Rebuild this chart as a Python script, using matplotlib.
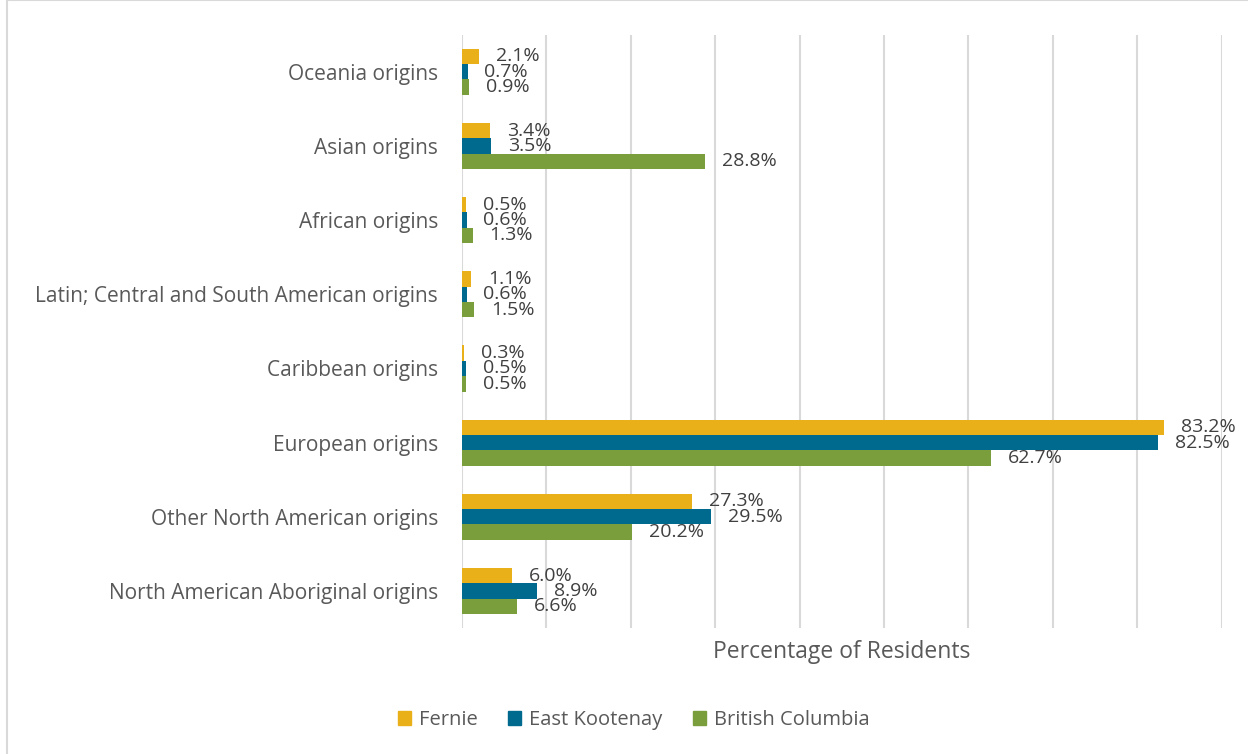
import matplotlib.pyplot as plt
import matplotlib.patches as mpatches
import numpy as np

plt.rcParams['font.family'] = ['Open Sans', 'DejaVu Sans']

# категории снизу вверх
categories = ['North American Aboriginal origins', 'Other North American origins',
              'European origins', 'Caribbean origins',
              'Latin; Central and South American origins', 'African origins',
              'Asian origins', 'Oceania origins']
fernie = [6.0, 27.3, 83.2, 0.3, 1.1, 0.5, 3.4, 2.1]
east_kootenay = [8.9, 29.5, 82.5, 0.5, 0.6, 0.6, 3.5, 0.7]
british_columbia = [6.6, 20.2, 62.7, 0.5, 1.5, 1.3, 28.8, 0.9]
series_names = ['Fernie', 'East Kootenay', 'British Columbia']
colors = ['#EAB01A', '#006A8E', '#7A9E3B']

fig = plt.figure(figsize=(12.48, 7.54), dpi=100)
ax = fig.add_axes([0.370, 0.167, 0.609, 0.787])

y = np.arange(len(categories))
h = 0.207
series = [fernie, east_kootenay, british_columbia]
for i, (vals, c) in enumerate(zip(series, colors)):
    pos = y + h - i * h
    ax.barh(pos, vals, height=h, color=c, zorder=3)
    for p, v in zip(pos, vals):
        ax.annotate(f'{v:.1f}%', (v, p), xytext=(12, 0), textcoords='offset points',
                    va='center', ha='left', fontsize=14, color='#404040', zorder=4)

ax.set_xlim(0, 90)
ax.set_ylim(-0.5, len(categories) - 0.5)
ax.set_xticks(np.arange(0, 91, 10))
ax.set_xticklabels([])
ax.tick_params(axis='x', length=0)
ax.tick_params(axis='y', length=0, pad=17)
ax.set_yticks(y)
ax.set_yticklabels(categories, fontsize=15, color='#595959')
ax.grid(axis='x', color='#D9D9D9', linewidth=1.5, zorder=0)
for s in ax.spines.values():
    s.set_visible(False)
ax.set_xlabel('Percentage of Residents', fontsize=16.5, color='#595959', labelpad=5)

handles = [mpatches.Patch(color=c, label=n) for c, n in zip(colors, series_names)]
fig.legend(handles=handles, loc='center', bbox_to_anchor=(0.508, 0.045), ncol=3,
           frameon=False, fontsize=14.5, handlelength=0.65, handleheight=0.65,
           handletextpad=0.4, columnspacing=1.5, labelcolor='#595959')

# рамка вокруг графика
fig.patches.append(mpatches.Rectangle((7 / 1248, -0.01), 1.02, 1.01 - 6 / 754 + 0.01 - 0.002,
                                      transform=fig.transFigure, fill=False,
                                      edgecolor='#D9D9D9', linewidth=1.5))

fig.savefig('out.png', dpi=100)
